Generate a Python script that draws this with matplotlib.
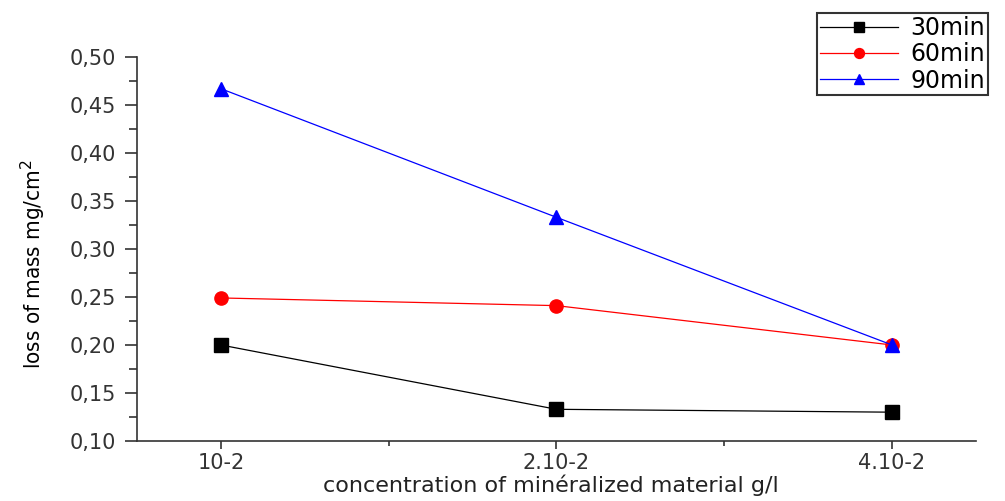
import matplotlib

matplotlib.use("Agg")
import matplotlib.pyplot as plt
from matplotlib.ticker import FuncFormatter, FixedLocator, MultipleLocator

# concentration levels (x categories) and mass loss per immersion time
concentrations = ["10-2", "2.10-2", "4.10-2"]
loss_30min = [0.200, 0.133, 0.130]
loss_60min = [0.249, 0.241, 0.200]
loss_90min = [0.467, 0.333, 0.200]
series_labels = ["30min", "60min", "90min"]

fig = plt.figure(figsize=(10.05, 5.01), dpi=100)
ax = fig.add_axes([0.1363, 0.1198, 0.8348, 0.7664])

x = list(range(1, len(concentrations) + 1))
ax.plot(x, loss_30min, color="black", lw=0.9, marker="s", ms=9.5, label=series_labels[0])
ax.plot(x, loss_60min, color="red", lw=0.9, marker="o", ms=9.5, label=series_labels[1])
ax.plot(x, loss_90min, color="blue", lw=0.9, marker="^", ms=10.5, label=series_labels[2])

ax.set_xlim(0.75, 3.25)
ax.set_ylim(0.10, 0.50)
ax.xaxis.set_major_locator(FixedLocator(x))
ax.set_xticklabels(concentrations)
ax.xaxis.set_minor_locator(FixedLocator([1.5, 2.5]))
ax.yaxis.set_major_locator(MultipleLocator(0.05))
ax.yaxis.set_minor_locator(MultipleLocator(0.025))
ax.yaxis.set_major_formatter(FuncFormatter(lambda v, _: f"{v:.2f}".replace(".", ",")))

for side in ("top", "right"):
    ax.spines[side].set_visible(False)
for side in ("left", "bottom"):
    ax.spines[side].set_color("#333333")
    ax.spines[side].set_linewidth(1.2)

ax.tick_params(axis="y", which="major", direction="out", length=9, width=1.2,
               color="#333333", pad=6, labelsize=15, labelcolor="#333333")
ax.tick_params(axis="y", which="minor", direction="out", length=6, width=1.2, color="#333333")
ax.tick_params(axis="x", which="major", direction="out", length=6, width=1.2,
               color="#333333", pad=3, labelsize=15, labelcolor="#333333")
ax.tick_params(axis="x", which="minor", direction="out", length=3.5, width=1.2, color="#333333")

ax.set_xlabel("concentration of minéralized material g/l", fontsize=16, color="#222222")
ax.xaxis.set_label_coords(0.493, -0.088)
ax.set_ylabel("loss of mass mg/cm$^2$", fontsize=16,
              family="DejaVu Sans", fontstretch="condensed")
ax.yaxis.set_label_coords(-0.106, 0.46)

leg = fig.legend(loc="upper left", bbox_to_anchor=(817 / 1005, 1 - 13 / 501),
                 bbox_transform=fig.transFigure, borderaxespad=0, fontsize=17,
                 fancybox=False, framealpha=1, edgecolor="#333333",
                 handlelength=3.3, handletextpad=0.55, labelspacing=0.1,
                 borderpad=0.12, numpoints=1, markerscale=0.75)
leg.get_frame().set_linewidth(1.5)

fig.savefig("out.png", dpi=100)
